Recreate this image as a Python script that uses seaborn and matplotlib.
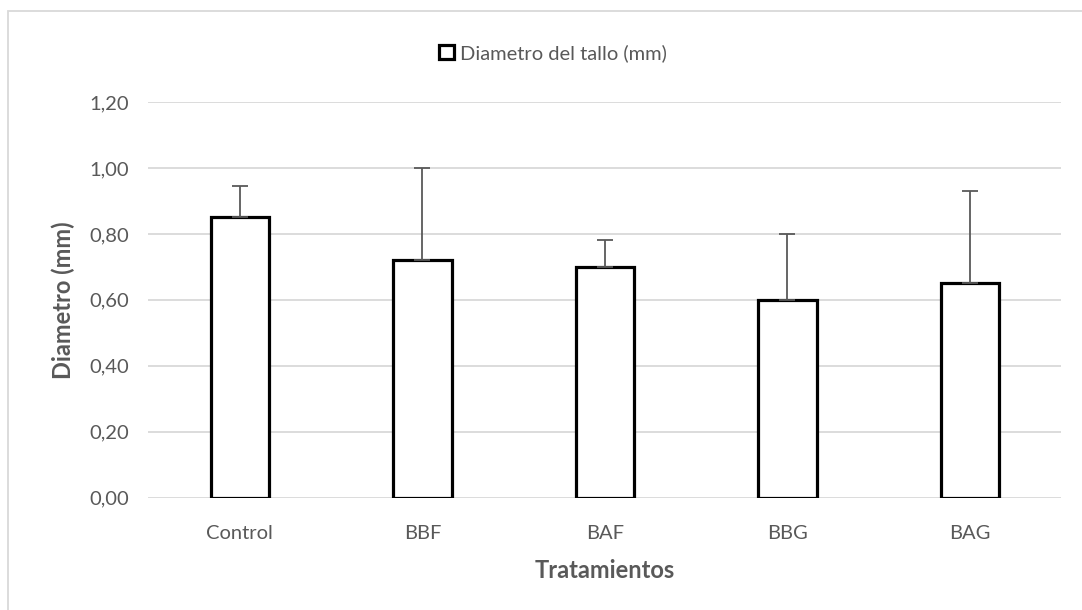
import matplotlib
matplotlib.use('Agg')
import matplotlib.pyplot as plt
import seaborn as sns
import pandas as pd
from matplotlib.patches import Rectangle
from matplotlib.ticker import FuncFormatter

# Datos
tratamientos = ['Control', 'BBF', 'BAF', 'BBG', 'BAG']
diametro = [0.85, 0.72, 0.70, 0.60, 0.65]
error_sup = [0.094, 0.28, 0.08, 0.20, 0.28]

df = pd.DataFrame({'tratamiento': tratamientos, 'diametro': diametro})

sns.set_style('white')
plt.rcParams['font.family'] = ['Lato', 'DejaVu Sans']

fig = plt.figure(figsize=(10.82, 6.10), dpi=100)
ax = fig.add_axes([0.1372, 0.1841, 0.8437, 0.6487])

gris = '#595959'
sns.barplot(data=df, x='tratamiento', y='diametro', ax=ax, width=0.32,
            color='white', edgecolor='black', linewidth=2.3,
            label='Diametro del tallo (mm)', zorder=3)

ax.errorbar(range(len(tratamientos)), diametro, yerr=[[0] * len(error_sup), error_sup],
            fmt='none', ecolor=gris, elinewidth=1.3, capsize=6, capthick=1.3, zorder=4)

ax.set_ylim(0, 1.2)
ax.set_xlim(-0.5, len(tratamientos) - 0.5)
ax.set_yticks([0, 0.2, 0.4, 0.6, 0.8, 1.0, 1.2])
ax.yaxis.set_major_formatter(FuncFormatter(lambda v, p: f'{v:.2f}'.replace('.', ',')))
ax.grid(axis='y', color='#d9d9d9', linewidth=1.3, zorder=0)
ax.set_axisbelow(True)
for s in ax.spines.values():
    s.set_visible(False)
ax.tick_params(axis='both', length=0, labelsize=14.5, colors=gris)
ax.tick_params(axis='x', pad=20)
ax.tick_params(axis='y', pad=14)

ax.set_xlabel('Tratamientos', fontsize=17, fontweight='bold', color=gris, labelpad=12)
ax.set_ylabel('Diametro (mm)', fontsize=17, fontweight='bold', color=gris, labelpad=10)

leg = ax.legend(loc='lower center', bbox_to_anchor=(0.443, 1.055), frameon=False,
                fontsize=14.5, handlelength=0.75, handleheight=0.75, handletextpad=0.3,
                labelcolor=gris)

# Borde del gráfico
fig.patches.append(Rectangle((8 / 1082, -0.1), 1.2, 1 - 11.5 / 610 + 0.1,
                             transform=fig.transFigure, fill=False,
                             edgecolor='#d9d9d9', linewidth=1.3))

fig.savefig('out.png', dpi=100)
